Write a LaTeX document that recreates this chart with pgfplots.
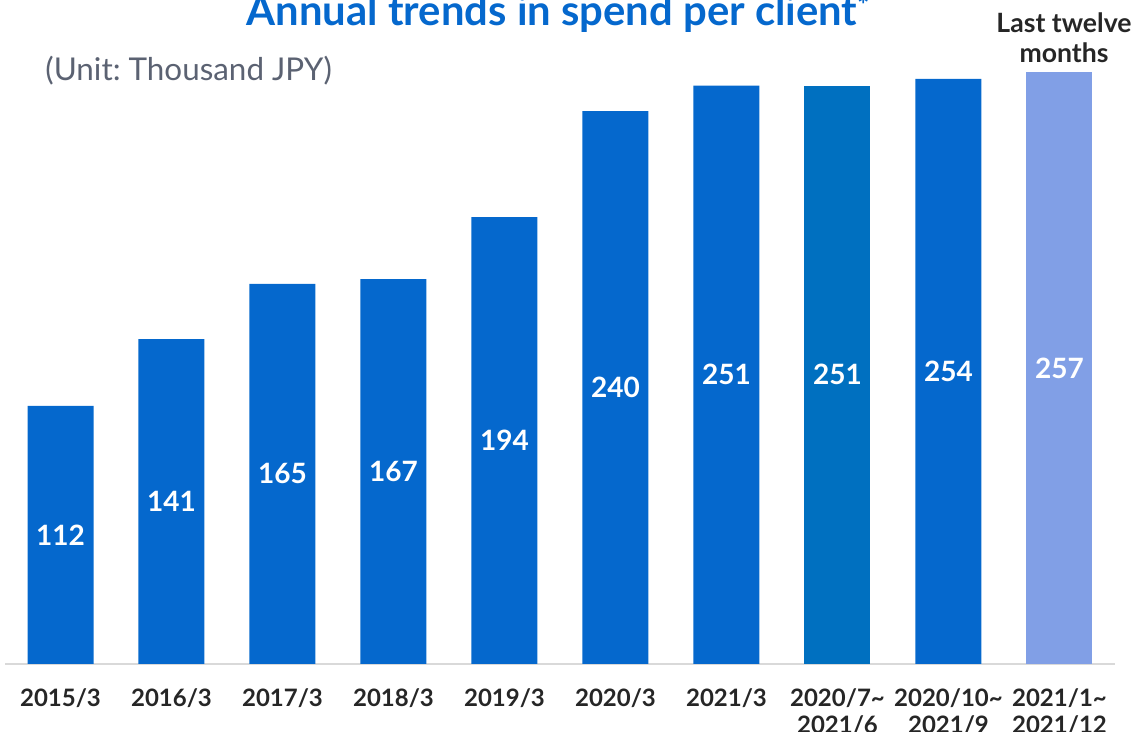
\documentclass[border=0pt]{standalone}
\usepackage{fontspec}
\setmainfont{Lato}
\usepackage{pgfplots}
\pgfplotsset{compat=1.18}
\definecolor{barblue}{HTML}{0568CD}
\definecolor{barteal}{HTML}{0070C0}
\definecolor{barlight}{HTML}{819FE6}
\definecolor{titleblue}{HTML}{0568CD}
\definecolor{unitgray}{HTML}{5B6272}
\definecolor{labeldark}{HTML}{262626}
\definecolor{axisgray}{HTML}{D9D9D9}
\frenchspacing
\begin{document}
\begin{tikzpicture}
\path[use as bounding box, clip] (0,0) rectangle (568.5pt,366pt);
\begin{axis}[
  at={(2.5pt,34pt)}, anchor=south west,
  scale only axis, width=555pt, height=332pt,
  xmin=-0.5, xmax=9.5, ymin=0, ymax=288.2,
  axis x line=bottom, axis y line=none,
  axis line style={draw=axisgray, line width=0.75pt, -},
  xtick={0,...,9},
  xticklabels={2015/3,2016/3,2017/3,2018/3,2019/3,2020/3,2021/3,{2020/7\textasciitilde\\2021/6},{2020/10\textasciitilde\\2021/9},{2021/1\textasciitilde\\2021/12}},
  xtick style={draw=none},
  ytick=\empty,
  xticklabel style={align=center, anchor=north, inner sep=0pt, yshift=-10pt,
    font=\fontsize{12}{13.5}\selectfont\bfseries, text=labeldark},
  clip=false,
]
\addplot[ybar, bar width=33pt, bar shift=0pt, fill=barblue, draw=none]
  coordinates {(0,112)(1,141)(2,165)(3,167)(4,194)(5,240)(6,251)(8,254)};
\addplot[ybar, bar width=33pt, bar shift=0pt, fill=barteal, draw=none]
  coordinates {(7,251)};
\addplot[ybar, bar width=33pt, bar shift=0pt, fill=barlight, draw=none]
  coordinates {(9,257)};
\addplot[draw=none, mark=none, nodes near coords, point meta=explicit symbolic,
  every node near coord/.append style={anchor=center, text=white,
    font=\fontsize{14}{16}\selectfont\bfseries}]
  coordinates {(0,56)[112] (1,70.5)[141] (2,82.5)[165] (3,83.5)[167] (4,97)[194]
    (5,120)[240] (6,125.5)[251] (7,125.5)[251] (8,127)[254] (9,128.5)[257]};
\end{axis}
\node[anchor=base, inner sep=0pt, font=\fontsize{20.9}{24}\selectfont\bfseries, text=titleblue]
  at (279pt,353pt) {Annual trends in spend per client\raisebox{5.3pt}{\fontsize{14}{14}\selectfont*}};
\node[anchor=base west, inner sep=0pt, font=\fontsize{15.7}{18}\selectfont, text=unitgray]
  at (22.5pt,325.6pt) {(Unit: Thousand JPY)};
\node[anchor=base, inner sep=0pt, font=\fontsize{13.3}{15}\selectfont\bfseries, text=labeldark]
  at (532pt,349.5pt) {Last twelve};
\node[anchor=base, inner sep=0pt, font=\fontsize{13.3}{15}\selectfont\bfseries, text=labeldark]
  at (532pt,334.5pt) {months};
\end{tikzpicture}
\end{document}
